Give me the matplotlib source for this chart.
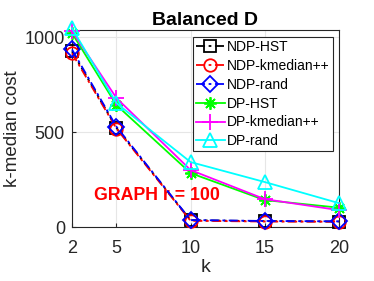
import matplotlib
matplotlib.use("Agg")
import matplotlib.pyplot as plt
import numpy as np

plt.rcParams['font.family'] = ['Liberation Sans', 'DejaVu Sans']

k = [2, 5, 10, 15, 20]
ndp_hst = [925, 522, 36, 31, 29]
ndp_kmed = [915, 518, 33, 29, 28]
ndp_rand = [935, 528, 37, 32, 30]
dp_hst = [1021, 642, 284, 142, 102]
dp_kmed = [1031, 679, 300, 147, 89]
dp_rand = [1047, 652, 342, 237, 126]

labels = ['NDP-HST', 'NDP-kmedian++', 'NDP-rand', 'DP-HST', 'DP-kmedian++', 'DP-rand']

fig = plt.figure(figsize=(3.74, 2.81), dpi=100)
ax = fig.add_axes([0.1925, 0.192, 0.7135, 0.701])

ms = 9
dd = (0, (5, 2, 1.5, 2))
kw = dict(lw=1.3, mew=1.3, clip_on=False, zorder=3)
ax.plot(k, ndp_hst, color='black', ls=dd, marker='s', ms=ms, mfc='none', label=labels[0], **kw)
ax.plot(k, ndp_kmed, color='red', ls=dd, marker='o', ms=ms, mfc='none', label=labels[1], **kw)
ax.plot(k, ndp_rand, color='blue', ls=dd, marker='D', ms=ms - 1, mfc='none', label=labels[2], **kw)
ax.plot(k, dp_hst, color='#00ff00', ls='-', marker=(8, 2, 0), ms=ms, label=labels[3], **kw)
ax.plot(k, dp_kmed, color='magenta', ls='-', marker='+', ms=ms + 2, label=labels[4], **kw)
ax.plot(k, dp_rand, color='cyan', ls='-', marker='^', ms=ms + 1, mfc='none', label=labels[5], **kw)

ax.set_xlim(2, 20)
ax.set_ylim(0, 1037)
ax.set_xticks(k)
ax.set_yticks([0, 500, 1000])
ax.grid(True, color='#e6e6e6', lw=0.8)
ax.set_axisbelow(True)
for s in ax.spines.values():
    s.set_color('#262626')
    s.set_linewidth(0.8)
ax.tick_params(labelsize=13, colors='#262626', length=3, direction='in', pad=5)
ax.tick_params(axis='x', pad=9)

ax.set_xlabel('k', fontsize=14, color='#262626', labelpad=2)
ax.set_ylabel('k-median cost', fontsize=13.5, color='#262626', labelpad=3)
ax.set_title('Balanced D', fontsize=14, fontweight='bold', pad=4)

ax.text(7.7, 168, 'GRAPH r = 100', color='red', fontsize=12.8, fontweight='bold',
        ha='center', va='center', zorder=2)

leg = ax.legend(loc='upper right', fontsize=10, handlelength=2.1, handletextpad=0.15,
                borderpad=0.2, labelspacing=0.35, borderaxespad=0.3, fancybox=False,
                framealpha=1, edgecolor='#262626', bbox_to_anchor=(0.992, 0.985))
leg.get_frame().set_linewidth(0.8)
leg.set_zorder(5)

fig.savefig('out.png', dpi=100)
